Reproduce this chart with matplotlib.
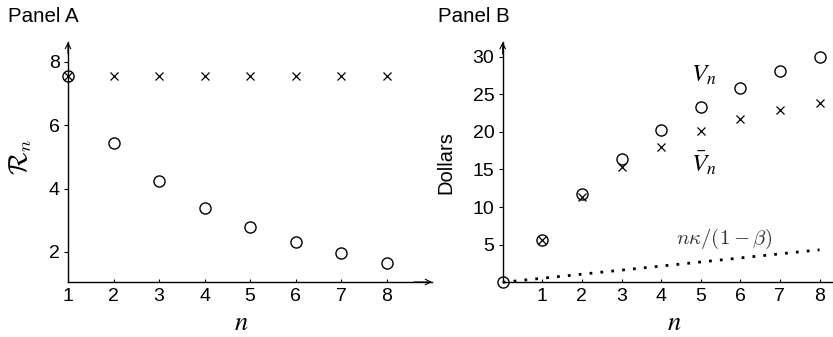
import numpy as np
import matplotlib
matplotlib.use("Agg")
from matplotlib import pyplot as plt

plt.rcParams['font.family'] = ['Liberation Sans', 'DejaVu Sans']
plt.rcParams['mathtext.fontset'] = 'stix'

# Panel A data
n_a = [1, 2, 3, 4, 5, 6, 7, 8]
r_circ = [7.56, 5.45, 4.24, 3.40, 2.79, 2.32, 1.96, 1.66]
r_cross = [7.56, 7.56, 7.56, 7.56, 7.56, 7.56, 7.56, 7.56]

# Panel B data
n_b = [0, 1, 2, 3, 4, 5, 6, 7, 8]
v_circ = [0.0, 5.62, 11.7, 16.4, 20.25, 23.35, 25.9, 28.1, 30.0]
v_cross = [5.62, 11.4, 15.3, 18.05, 20.1, 21.7, 22.85, 23.8]
n_cross = [1, 2, 3, 4, 5, 6, 7, 8]
kappa_ratio = 0.54   # slope of n*kappa/(1-beta)
n_line = [0, 8]

fig = plt.figure(figsize=(8.33, 3.37), dpi=100)

ax1 = fig.add_axes([68/833, 55/337, 364/833, 240/337])
ax2 = fig.add_axes([502.7/833, 54.7/337, 330.3/833, 240.3/337])

mk_c = dict(marker='o', ms=8, mfc='none', mec='k', mew=1.0, ls='none', clip_on=False)
mk_x = dict(marker='x', ms=6, mec='k', mew=0.9, ls='none', clip_on=False)

# Panel A
ax1.plot(n_a, r_cross, **mk_x)
ax1.plot(n_a, r_circ, **mk_c)
ax1.set_xlim(1, 9)
ax1.set_ylim(1.05, 8.63)
ax1.set_xticks(range(1, 9))
ax1.set_yticks([2, 4, 6, 8])
ax1.set_ylabel(r'$\mathcal{R}_n$', fontsize=19, math_fontfamily='cm', va='center')
ax1.yaxis.set_label_coords(-0.13, 0.52)
ax1.set_xlabel(r'$n$', fontsize=19, va='center')
ax1.xaxis.set_label_coords(0.475, -0.17)
fig.text(8/833, 1 - 17/337, 'Panel A', fontsize=14.8, va='center', ha='left')

# Panel B
ax2.plot(n_line, [kappa_ratio * v for v in n_line], color='k', lw=2.0,
         ls=(0, (1, 2.93)), clip_on=False)
ax2.plot(n_cross, v_cross, **mk_x)
ax2.plot(n_b, v_circ, **mk_c)
ax2.set_xlim(0, 8.34)
ax2.set_ylim(0, 31.95)
ax2.set_xticks(range(1, 9))
ax2.set_yticks([5, 10, 15, 20, 25, 30])
ax2.set_ylabel('Dollars', fontsize=14.5, va='center')
ax2.yaxis.set_label_coords(-0.172, 0.5)
ax2.set_xlabel(r'$n$', fontsize=19, va='center')
ax2.xaxis.set_label_coords(0.52, -0.17)
ax2.text(5.07, 27.6, r'$V_n$', fontsize=18, ha='center', va='center')
ax2.text(5.07, 15.9, r'$\bar{V}_n$', fontsize=18, ha='center', va='center')
ax2.text(5.6, 5.7, r'$n\kappa/(1-\beta)$', fontsize=15, ha='center', va='center',
         color='#333333', math_fontfamily='cm')
fig.text(438/833, 1 - 17/337, 'Panel B', fontsize=14.8, va='center', ha='left')

for ax in (ax1, ax2):
    for s in ('top', 'right'):
        ax.spines[s].set_visible(False)
    for s in ('left', 'bottom'):
        ax.spines[s].set_linewidth(1.0)
    ax.tick_params(axis='y', direction='out', length=3, width=0.8, labelsize=14, pad=3)
    ax.tick_params(axis='x', direction='in', length=2.5, width=0.8, labelsize=14, pad=4)
    # arrow at top of y axis
    ax.annotate('', xy=(0, 1.0), xytext=(0, 0.95), xycoords='axes fraction',
                arrowprops=dict(arrowstyle='->', lw=0.8, color='k',
                                shrinkA=0, shrinkB=0))

# arrow at right end of panel A x axis
ax1.annotate('', xy=(1.0, 0), xytext=(0.95, 0), xycoords='axes fraction',
             arrowprops=dict(arrowstyle='->', lw=0.8, color='k',
                             shrinkA=0, shrinkB=0))

fig.savefig('out.png', dpi=100)
